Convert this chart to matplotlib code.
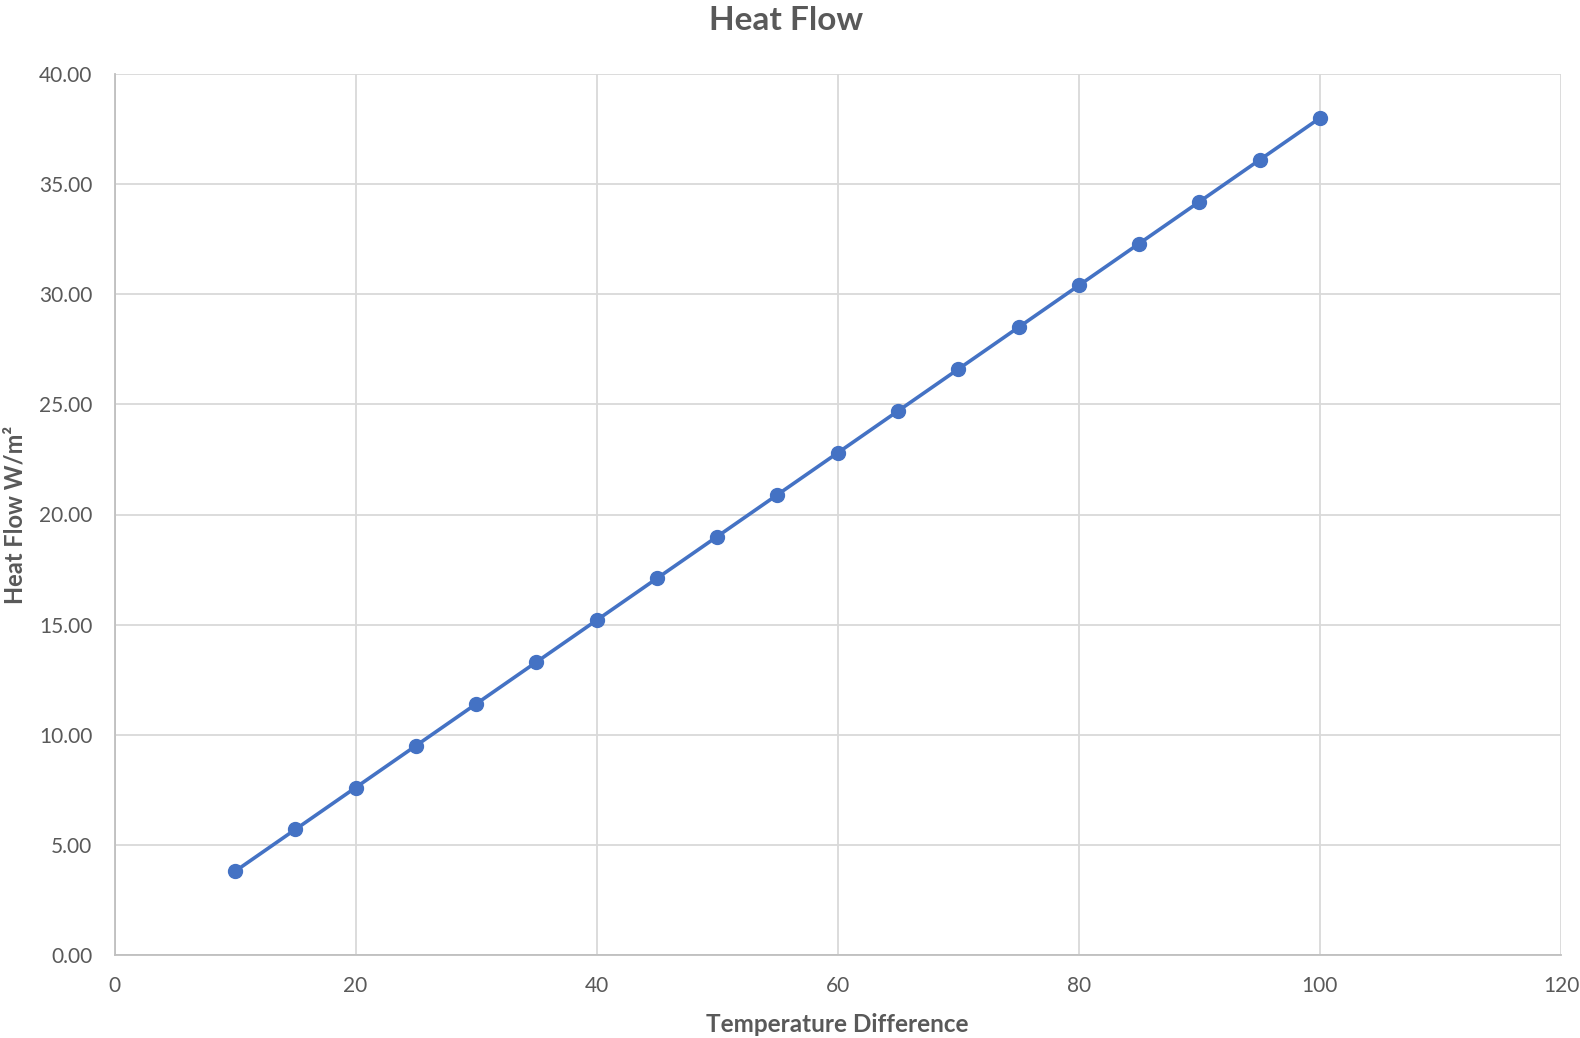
import matplotlib
matplotlib.use("Agg")
import matplotlib.pyplot as plt
from matplotlib.ticker import FormatStrFormatter, MultipleLocator

temp_diff = [10, 15, 20, 25, 30, 35, 40, 45, 50, 55, 60, 65, 70, 75, 80, 85, 90, 95, 100]
heat_flow = [3.8, 5.7, 7.6, 9.5, 11.4, 13.3, 15.2, 17.1, 19.0, 20.9, 22.8, 24.7,
             26.6, 28.5, 30.4, 32.3, 34.2, 36.1, 38.0]

plt.rcParams['font.family'] = ['Lato', 'DejaVu Sans']
text_color = '#595959'

fig = plt.figure(figsize=(15.8, 10.38), dpi=100)
ax = fig.add_axes([114.5 / 1580, 1 - 955 / 1038, (1561 - 114.5) / 1580, (955 - 74) / 1038])

ax.plot(temp_diff, heat_flow, color='#4472C4', linewidth=2.6, marker='o',
        markersize=10, zorder=3)

ax.set_xlim(0, 120)
ax.set_ylim(0, 40)
ax.xaxis.set_major_locator(MultipleLocator(20))
ax.yaxis.set_major_locator(MultipleLocator(5))
ax.yaxis.set_major_formatter(FormatStrFormatter('%.2f'))

ax.grid(True, color='#d9d9d9', linewidth=1.3)
ax.set_axisbelow(True)
for s in ['top', 'right']:
    ax.spines[s].set_visible(False)
for s in ['left', 'bottom']:
    ax.spines[s].set_color('#bfbfbf')
    ax.spines[s].set_linewidth(1.3)

ax.tick_params(axis='both', length=0, labelsize=15, labelcolor=text_color)
ax.tick_params(axis='y', pad=16)
ax.tick_params(axis='x', pad=15)

ax.set_xlabel('Temperature Difference', fontsize=17.5, fontweight='bold',
              color=text_color, va='center')
ax.xaxis.set_label_coords(0.4997, (955 - 1024) / 881)
ax.set_ylabel('Heat Flow W/m²', fontsize=17, fontweight='bold',
              color=text_color, va='center')
ax.yaxis.set_label_coords((15 - 114.5) / 1446, 0.5)
fig.text(0.4975, 1 - 20 / 1038, 'Heat Flow', ha='center', va='center',
         fontsize=24, fontweight='bold', color=text_color)

fig.savefig('out.png', dpi=100, facecolor='white')
